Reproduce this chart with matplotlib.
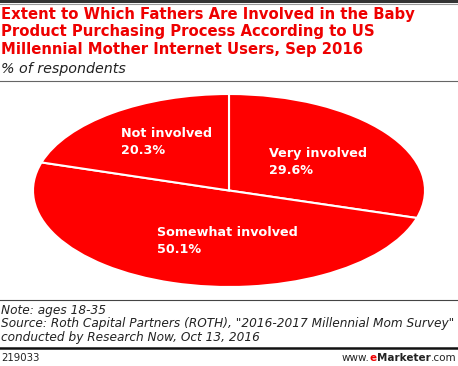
import matplotlib
matplotlib.use("Agg")
import matplotlib.pyplot as plt
from matplotlib.lines import Line2D

# data
labels = ["Very involved", "Somewhat involved", "Not involved"]
values = [29.6, 50.1, 20.3]

title = ("Extent to Which Fathers Are Involved in the Baby\n"
         "Product Purchasing Process According to US\n"
         "Millennial Mother Internet Users, Sep 2016")
subtitle = "% of respondents"
notes = ("Note: ages 18-35\n"
         "Source: Roth Capital Partners (ROTH), \"2016-2017 Millennial Mom Survey\"\n"
         "conducted by Research Now, Oct 13, 2016")
chart_id = "219033"

W, H = 458, 366
RED = "#ff0000"

fig = plt.figure(figsize=(W / 100, H / 100), dpi=100)
fig.patch.set_facecolor("white")


def fx(px):
    return px / W


def fy(py):
    return 1 - py / H


# pie drawn in a wide axes so it turns into an ellipse
ax = fig.add_axes([fx(33), fy(287), fx(392), (287 - 94) / H])
ax.pie(values, startangle=90, counterclock=False, colors=[RED] * 3,
       wedgeprops=dict(edgecolor="white", linewidth=1.5))
ax.set_aspect("auto")
ax.set_xlim(-1, 1)
ax.set_ylim(-1, 1)
ax.axis("off")

# slice labels (pixel positions of upper-left corner)
label_pos = {"Very involved": (269, 147),
             "Somewhat involved": (157, 226),
             "Not involved": (121, 127)}
for lab, v in zip(labels, values):
    x, y = label_pos[lab]
    fig.text(fx(x), fy(y), f"{lab}\n{v:.1f}%", color="white",
             fontsize=9.2, fontweight="bold", ha="left", va="top",
             linespacing=1.4)

# header
fig.add_artist(Line2D([0, 1], [fy(1), fy(1)], color="#333333", lw=2.2))
fig.add_artist(Line2D([0, 1], [fy(3.5), fy(3.5)], color="#999999", lw=0.8))
fig.text(fx(1), fy(7), title, color="#ee0000", fontsize=10.7,
         fontweight="bold", ha="left", va="top", linespacing=1.2)
fig.text(fx(1), fy(62), subtitle, color="#222222", fontsize=10.3,
         style="italic", ha="left", va="top")
fig.add_artist(Line2D([0, 1], [fy(81), fy(81)], color="#666666", lw=0.8))

# footer
fig.add_artist(Line2D([0, 1], [fy(300), fy(300)], color="#444444", lw=0.8))
fig.text(fx(1), fy(304), notes, color="#222222", fontsize=8.7,
         style="italic", ha="left", va="top", linespacing=1.05)
fig.add_artist(Line2D([0, 1], [fy(348), fy(348)], color="#111111", lw=1.8))
fig.text(fx(1), fy(358), chart_id, color="#222222", fontsize=7.3,
         ha="left", va="center")

# www.eMarketer.com, built right to left
renderer = fig.canvas.get_renderer()
parts = [(".com", "normal", "#222222"), ("Marketer", "bold", "#222222"),
         ("e", "bold", "#ee0000"), ("www.", "normal", "#222222")]
xr = 456
for txt, wt, col in parts:
    t = fig.text(fx(xr), fy(358), txt, color=col, fontsize=7.5,
                 fontweight=wt, ha="right", va="center")
    xr -= t.get_window_extent(renderer).width

fig.savefig("out.png", dpi=100)
